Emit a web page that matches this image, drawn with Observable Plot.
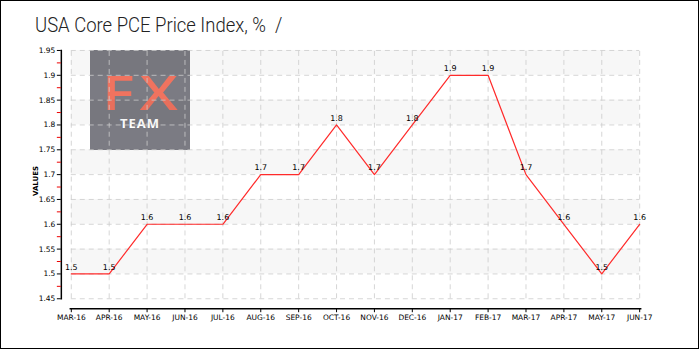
<!DOCTYPE html>
<html>
<head>
<meta charset="utf-8">
<script src="https://cdn.jsdelivr.net/npm/d3@7"></script>
<script src="https://cdn.jsdelivr.net/npm/@observablehq/plot@0.6"></script>
<style>
  html, body { margin: 0; padding: 0; background: #fff; }
  #box { position: relative; width: 699px; height: 349px; box-sizing: border-box; border: 1px solid #000; overflow: hidden; background: #fff; }
  #title { height: 39px; padding-left: 34px; font-family: Roboto, sans-serif; font-weight: 300; font-size: 21px; line-height: 48px; color: #222; white-space: pre; }
  #title span { display: inline-block; transform: scaleX(0.88); transform-origin: left center; }
  #logo { position: absolute; left: 89px; top: 49px; width: 100px; height: 100px; background: #7b7b83; z-index: 0; font-family: "Open Sans", sans-serif; text-align: center; }
  #logo .fx { color: #f0735f; font-size: 47px; font-weight: 600; line-height: 40px; height: 40px; margin-top: 22px; letter-spacing: 4px; padding-left: 4px; transform: scaleX(1.3); }
  #logo .team { color: #fff; font-size: 13px; font-weight: 700; line-height: 14px; letter-spacing: 1px; margin-top: 4px; }
  #ylabel { position: absolute; left: 35px; top: 180px; transform: translate(-50%, -50%) rotate(-90deg); font-family: "DejaVu Sans", sans-serif; font-size: 7px; font-weight: bold; z-index: 2; white-space: nowrap; }
  #chart { position: relative; z-index: 1; }
</style>
</head>
<body>
<div id="box">
  <div id="title"><span>USA Core PCE Price Index, %  /</span></div>
  <div id="logo"><div class="fx">FX</div><div class="team">TEAM</div></div>
  <div id="ylabel">VALUES</div>
  <div id="chart"></div>
</div>
<script>
const months = ["MAR-16","APR-16","MAY-16","JUN-16","JUL-16","AUG-16","SEP-16","OCT-16","NOV-16","DEC-16","JAN-17","FEB-17","MAR-17","APR-17","MAY-17","JUN-17"];
const values = [1.5,1.5,1.6,1.6,1.6,1.7,1.7,1.8,1.7,1.8,1.9,1.9,1.7,1.6,1.5,1.6];
const yTicks = [1.45,1.5,1.55,1.6,1.65,1.7,1.75,1.8,1.85,1.9,1.95];
const yMinor = [1.475,1.525,1.575,1.625,1.675,1.725,1.775,1.825,1.875,1.925];
const bandStarts = [1.5,1.6,1.7,1.8,1.9];

const data = months.map((m, i) => ({month: m, value: values[i]}));
const bands = bandStarts.map(b => ({y1: b, y2: b + 0.05}));
const first = months[0], last = months[months.length - 1];
const font = "DejaVu Sans, sans-serif";

const chart = Plot.plot({
  width: 699,
  height: 309,
  marginTop: 10,
  marginBottom: 40,
  marginLeft: 60,
  marginRight: 58,
  insetLeft: 9,
  insetBottom: 10,
  style: {background: "transparent", fontFamily: font, fontSize: "8px", color: "#000"},
  x: {type: "point", domain: months, padding: 0},
  y: {domain: [1.45, 1.95]},
  marks: [
    Plot.rect(bands, {x1: () => first, x2: () => last, y1: "y1", y2: "y2", fill: "#000", fillOpacity: 0.032}),
    Plot.ruleY(yTicks, {x1: () => first, x2: () => last, stroke: "#ccc", strokeDasharray: "5,4", strokeOpacity: 0.8}),
    Plot.ruleX(months, {y1: 1.45, y2: 1.95, stroke: "#ccc", strokeDasharray: "5,4", strokeOpacity: 0.8}),
    Plot.frame({anchor: "left", insetBottom: 10, stroke: "#000", strokeWidth: 1.5}),
    Plot.frame({anchor: "bottom", insetLeft: 9, stroke: "#000", strokeWidth: 1.5}),
    Plot.axisY(yMinor, {anchor: "left", tickSize: 4, stroke: "#e00", tickFormat: () => "", label: null}),
    Plot.axisY(yTicks, {anchor: "left", tickSize: 4, tickPadding: 2, tickFormat: d => String(+d.toFixed(2)), label: null, fontSize: 7.5}),
    Plot.axisX({anchor: "bottom", tickSize: 4, tickPadding: 2, label: null, fontSize: 7.5}),
    Plot.line(data, {x: "month", y: "value", stroke: "#ff2a2a", strokeWidth: 1.2}),
    Plot.text(data, {x: "month", y: "value", text: d => d.value.toFixed(1), dy: -7, fontSize: 8, fill: "#000"})
  ]
});
document.getElementById("chart").appendChild(chart);
</script>
</body>
</html>
